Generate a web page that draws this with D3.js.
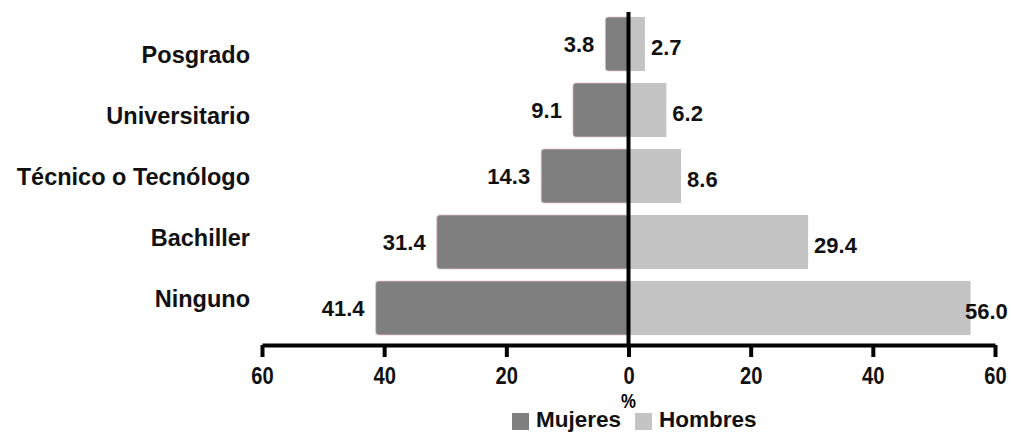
<!DOCTYPE html>
<html>
<head>
<meta charset="utf-8">
<script src="https://cdn.jsdelivr.net/npm/d3@7"></script>
<style>
  body { margin: 0; background: #fff; }
  svg { display: block; }
</style>
</head>
<body>
<div id="chart"></div>
<script>
// datos (porcentajes)
const niveles = ["Posgrado", "Universitario", "Técnico o Tecnólogo", "Bachiller", "Ninguno"];
const mujeres = [3.8, 9.1, 14.3, 31.4, 41.4];
const hombres = [2.7, 6.2, 8.6, 29.4, 56.0];
const ticks = [-60, -40, -20, 0, 20, 40, 60];
const series = ["Mujeres", "Hombres"];

const width = 1011, height = 433;
const colMuj = "#7f7f7f", colHom = "#c4c4c4";
const font = "'Liberation Sans', Arial, sans-serif";

const rows = niveles.map((n, i) => ({ nivel: n, m: mujeres[i], h: hombres[i] }));

const svg = d3.select("#chart").append("svg")
    .attr("width", width)
    .attr("height", height);

let x = d3.scaleLinear().domain([-60, 60]).range([262, 995]);

let y = d3.scaleBand()
    .domain(niveles)
    .range([11, 341])
    .paddingInner(0.18)
    .paddingOuter(0.09);

// etiquetas de categoría (un poco desplazadas respecto a las barras, como en el original)
let yLab = d3.scalePoint().domain(niveles).range([55, 299]);

// barras mujeres
svg.selectAll(".bar-m")
    .data(rows)
    .enter()
    .append("rect")
    .attr("class", "bar-m")
    .attr("x", d => x(-d.m))
    .attr("y", d => y(d.nivel))
    .attr("width", d => x(0) - x(-d.m))
    .attr("height", y.bandwidth())
    .attr("rx", 3)
    .attr("fill", colMuj)
    .attr("stroke", "#e9c9d0")
    .attr("stroke-width", 0.8);

// barras hombres
svg.selectAll(".bar-h")
    .data(rows)
    .enter()
    .append("rect")
    .attr("class", "bar-h")
    .attr("x", x(0))
    .attr("y", d => y(d.nivel))
    .attr("width", d => x(d.h) - x(0))
    .attr("height", y.bandwidth())
    .attr("fill", colHom);

// linea central
svg.append("line")
    .attr("x1", x(0)).attr("x2", x(0))
    .attr("y1", 12).attr("y2", 345)
    .attr("stroke", "#000")
    .attr("stroke-width", 4);

// eje X
let axis = svg.append("g")
    .attr("transform", "translate(0,345)")
    .call(d3.axisBottom(x).tickValues(ticks).tickSize(12).tickSizeOuter(0).tickPadding(10)
        .tickFormat(d => Math.abs(d)));
axis.select(".domain").attr("stroke", "#000").attr("stroke-width", 4);
axis.selectAll(".tick line").attr("stroke", "#000").attr("stroke-width", 4);
axis.selectAll(".tick text")
    .attr("transform", "scale(0.84,1)")
    .style("font-family", font)
    .style("font-weight", "bold")
    .style("font-size", "24px")
    .style("fill", "#111");

svg.append("text")
    .attr("x", x(0))
    .attr("y", 408)
    .attr("text-anchor", "middle")
    .attr("transform", `translate(${x(0) * 0.16},0) scale(0.84,1)`)
    .style("font-family", font)
    .style("font-weight", "bold")
    .style("font-size", "20px")
    .text("%");

// nombres de nivel
svg.selectAll(".cat")
    .data(niveles)
    .enter()
    .append("text")
    .attr("class", "cat")
    .attr("x", 250)
    .attr("y", d => yLab(d))
    .attr("dy", "0.35em")
    .attr("text-anchor", "end")
    .style("font-family", font)
    .style("font-weight", "bold")
    .style("font-size", "23.5px")
    .style("fill", "#111")
    .text(d => d);

// valores
svg.selectAll(".lab-m")
    .data(rows)
    .enter()
    .append("text")
    .attr("class", "lab-m")
    .attr("x", d => x(-d.m) - 11)
    .attr("y", d => y(d.nivel) + y.bandwidth() / 2)
    .attr("dy", "0.35em")
    .attr("text-anchor", "end")
    .style("font-family", font)
    .style("font-weight", "bold")
    .style("font-size", "22px")
    .style("fill", "#111")
    .text(d => d.m.toFixed(1));

svg.selectAll(".lab-h")
    .data(rows)
    .enter()
    .append("text")
    .attr("class", "lab-h")
    .attr("x", d => Math.min(x(d.h) + 6, width - 46))
    .attr("y", d => y(d.nivel) + y.bandwidth() / 2 + 3)
    .attr("dy", "0.35em")
    .style("font-family", font)
    .style("font-weight", "bold")
    .style("font-size", "22px")
    .style("fill", "#111")
    .text(d => d.h.toFixed(1));

// leyenda
let legend = svg.append("g").attr("transform", "translate(512,413)");
let colorScale = d3.scaleOrdinal().domain(series).range([colMuj, colHom]);
legend.selectAll(".legend-item")
    .data(series)
    .enter()
    .append("g")
    .attr("class", "legend-item")
    .attr("transform", (d, i) => `translate(${i * 123}, 0)`)
    .each(function(d) {
        let g = d3.select(this);
        g.append("rect")
            .attr("width", 17)
            .attr("height", 17)
            .attr("fill", colorScale(d));
        g.append("text")
            .attr("x", 24)
            .attr("y", 14)
            .style("font-family", font)
            .style("font-weight", "bold")
            .style("font-size", "22.5px")
            .style("fill", "#111")
            .text(d);
    });
</script>
</body>
</html>
